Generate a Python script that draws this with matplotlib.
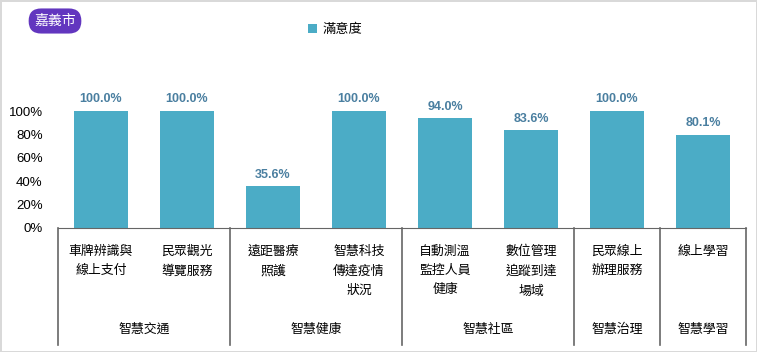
import matplotlib.pyplot as plt

plt.rcParams['font.family'] = ['Liberation Sans', 'Noto Sans CJK TC', 'DejaVu Sans']

items = ['車牌辨識與\n線上支付', '民眾觀光\n導覽服務', '遠距醫療\n照護', '智慧科技\n傳達疫情\n狀況',
         '自動測溫\n監控人員\n健康', '數位管理\n追蹤到達\n場域', '民眾線上\n辦理服務', '線上學習']
values = [100.0, 100.0, 35.6, 100.0, 94.0, 83.6, 100.0, 80.1]
groups = ['智慧交通', '智慧健康', '智慧社區', '智慧治理', '智慧學習']
group_span = [(0, 2), (2, 4), (4, 6), (6, 7), (7, 8)]
yticks = [0, 20, 40, 60, 80, 100]
series_name = '滿意度'
city = '嘉義市'

bar_color = '#4bacc6'
label_color = '#4a7fa0'
line_color = '#666666'

fig = plt.figure(figsize=(7.57, 3.52), dpi=100)
fig.patch.set_edgecolor('#d9d9d9')
fig.patch.set_linewidth(2)

W, H = 757, 352
ax = fig.add_axes([58 / W, (H - 228) / H, (746 - 58) / W, (228 - 88) / H])

x = [i + 0.5 for i in range(len(values))]
bars = ax.bar(x, values, width=0.62, color=bar_color, label=series_name)
for xi, v in zip(x, values):
    ax.text(xi, v + 5, f'{v:.1f}%', ha='center', va='bottom', fontsize=9,
            fontweight='bold', color=label_color)

ax.set_xlim(0, 8)
ax.set_ylim(0, 120)
ax.set_yticks(yticks)
ax.set_yticklabels([f'{t}%' for t in yticks], fontsize=9.5)
ax.tick_params(axis='y', length=0, pad=11)
ax.set_xticks([])
for s in ['top', 'right', 'left']:
    ax.spines[s].set_visible(False)
ax.spines['bottom'].set_color(line_color)

# item labels under bars
for xi, name in zip(x, items):
    ax.text(xi, -15, name, ha='center', va='top', fontsize=9.3, linespacing=1.8,
            clip_on=False)

# group separators and labels
ybot = -(345 - 228) / 140 * 120
for name, (a, b) in zip(groups, group_span):
    ax.text((a + b) / 2, -(330 - 228) / 140 * 120, name,
            ha='center', va='center', fontsize=9.3, clip_on=False)
for sep in [0, 2, 4, 6, 7, 8]:
    ax.plot([sep, sep], [0, ybot], color=line_color, lw=1.2, clip_on=False)

fig.legend(handles=[bars], labels=[series_name], loc='center', bbox_to_anchor=(335 / W, 1 - 30 / H),
           frameon=False, fontsize=9.5, handlelength=0.7, handleheight=0.7, handletextpad=0.4)

# city badge
fig.text(55 / W, 1 - 21 / H, city, ha='center', va='center', color='white', fontsize=10,
         bbox=dict(boxstyle='round,pad=0.4,rounding_size=0.9', facecolor='#6236bf', edgecolor='none'))

fig.savefig('out.png', dpi=100)
